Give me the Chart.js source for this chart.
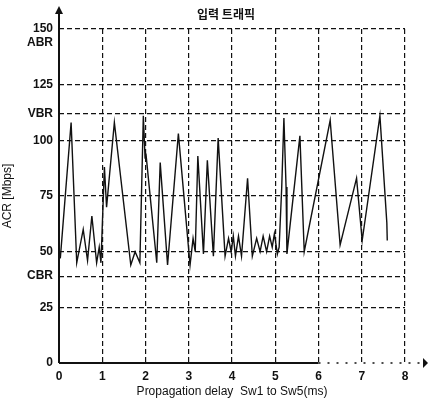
<!DOCTYPE html>
<html>
<head>
<meta charset="utf-8">
<script src="https://cdn.jsdelivr.net/npm/chart.js@4/dist/chart.umd.min.js"></script>
<style>
  html, body { margin: 0; padding: 0; background: #fff; }
  #wrap { width: 428px; height: 402px; }
</style>
</head>
<body>
<div id="wrap"><canvas id="acrChart" width="428" height="402"></canvas></div>
<script>
// values
const delayMs = [
	0.03, 0.28, 0.41, 0.56, 0.66, 0.76, 0.87, 0.93, 0.97, 1.05,
	1.10, 1.28, 1.66, 1.76, 1.87, 1.95, 1.99, 2.01, 2.26, 2.34,
	2.51, 2.76, 3.03, 3.10, 3.15, 3.21, 3.34, 3.43, 3.57, 3.68,
	3.84, 3.92, 3.98, 4.03, 4.08, 4.15, 4.22, 4.36, 4.47, 4.57,
	4.65, 4.72, 4.80, 4.87, 4.93, 4.98, 5.05, 5.09, 5.15, 5.20,
	5.25, 5.27, 5.57, 5.67, 6.27, 6.50, 6.88, 7.01, 7.42, 7.58,
	7.59
];
const acrMbps = [
	47, 108, 45, 60, 46, 66, 45, 52, 45, 88,
	70, 108, 44, 50, 45, 111, 92, 94, 45, 90,
	44, 103, 44, 56, 50, 93, 49, 91, 48, 101,
	48, 56, 50, 57, 48, 57, 48, 83, 48, 56,
	50, 57, 50, 57, 52, 58, 49, 52, 79, 110,
	79, 49, 102, 50, 109, 53, 83, 55, 111, 63,
	55
];

const yTickValues = [0, 25, 39, 50, 75, 100, 112, 125, 144, 150];
const yTickLabels = ["0", "25", "CBR", "50", "75", "100", "VBR", "125", "ABR", "150"];
const xTickValues = [0, 1, 2, 3, 4, 5, 6, 7, 8];

const TITLE_TEXT = "입력 트래픽";
const X_TITLE = "Propagation delay  Sw1 to Sw5(ms)";
const Y_TITLE = "ACR [Mbps]";

const INK = "#111";
const FONT = "'Liberation Sans', Arial, sans-serif";

// axis arrows, dotted x extension and title
const decorPlugin = {
	id: "decor",
	afterDraw(chart) {
		const ctx = chart.ctx;
		const area = chart.chartArea;
		const x6 = chart.scales.x.getPixelForValue(6);
		ctx.save();
		ctx.strokeStyle = INK;
		ctx.fillStyle = INK;

		// y axis line + arrow
		ctx.lineWidth = 2;
		ctx.beginPath();
		ctx.moveTo(area.left, area.bottom);
		ctx.lineTo(area.left, 12);
		ctx.stroke();
		ctx.beginPath();
		ctx.moveTo(area.left, 6);
		ctx.lineTo(area.left - 4, 14);
		ctx.lineTo(area.left + 4, 14);
		ctx.closePath();
		ctx.fill();

		// x axis: solid to 6, dotted beyond
		ctx.beginPath();
		ctx.moveTo(area.left, area.bottom);
		ctx.lineTo(x6, area.bottom);
		ctx.stroke();
		ctx.lineWidth = 1.5;
		ctx.setLineDash([2, 7]);
		ctx.beginPath();
		ctx.moveTo(x6, area.bottom);
		ctx.lineTo(420, area.bottom);
		ctx.stroke();
		ctx.setLineDash([]);
		ctx.beginPath();
		ctx.moveTo(428, area.bottom);
		ctx.lineTo(423, area.bottom - 5);
		ctx.lineTo(423, area.bottom + 5);
		ctx.closePath();
		ctx.fill();

		// title
		ctx.font = "bold 12px 'Noto Sans CJK KR', sans-serif";
		ctx.textAlign = "center";
		ctx.textBaseline = "middle";
		ctx.fillText(TITLE_TEXT, 226, 14);
		ctx.restore();
	}
};

const gridDash = {
	color: (c) => (c.tick && (c.tick.value === 0 || c.tick.value === 144)) ? "rgba(0,0,0,0)" : INK,
	lineWidth: 1.2,
	drawTicks: false
};

new Chart(document.getElementById("acrChart"), {
	type: "line",
	data: {
		datasets: [{
			data: delayMs.map((d, i) => ({ x: d, y: acrMbps[i] })),
			borderColor: INK,
			borderWidth: 1.4,
			pointRadius: 0,
			tension: 0,
			fill: false
		}]
	},
	options: {
		responsive: false,
		animation: false,
		layout: { padding: { top: 29, right: 23, left: 0, bottom: 0 } },
		plugins: {
			legend: { display: false },
			tooltip: { enabled: false }
		},
		scales: {
			x: {
				type: "linear",
				min: 0,
				max: 8,
				afterBuildTicks: (scale) => { scale.ticks = xTickValues.map(v => ({ value: v })); },
				afterFit: (scale) => { scale.height = 39; },
				border: { display: false, dash: [5, 3] },
				grid: Object.assign({}, gridDash),
				ticks: {
					color: INK,
					padding: 6,
					font: { family: FONT, size: 12, weight: "bold" },
					callback: (v) => String(v)
				},
				title: {
					display: true,
					text: X_TITLE,
					color: INK,
					padding: { top: 0, bottom: 3 },
					font: { family: FONT, size: 12 }
				}
			},
			y: {
				min: 0,
				max: 150,
				afterBuildTicks: (scale) => { scale.ticks = yTickValues.map(v => ({ value: v })); },
				afterFit: (scale) => { scale.width = 59; },
				border: { display: false, dash: [5, 3] },
				grid: Object.assign({}, gridDash),
				ticks: {
					color: INK,
					padding: 6,
					font: { family: FONT, size: 12, weight: "bold" },
					callback: (v) => yTickLabels[yTickValues.indexOf(v)]
				},
				title: {
					display: true,
					text: Y_TITLE,
					color: INK,
					padding: { top: 0, bottom: 4 },
					font: { family: FONT, size: 12 }
				}
			}
		}
	},
	plugins: [decorPlugin]
});
</script>
</body>
</html>
